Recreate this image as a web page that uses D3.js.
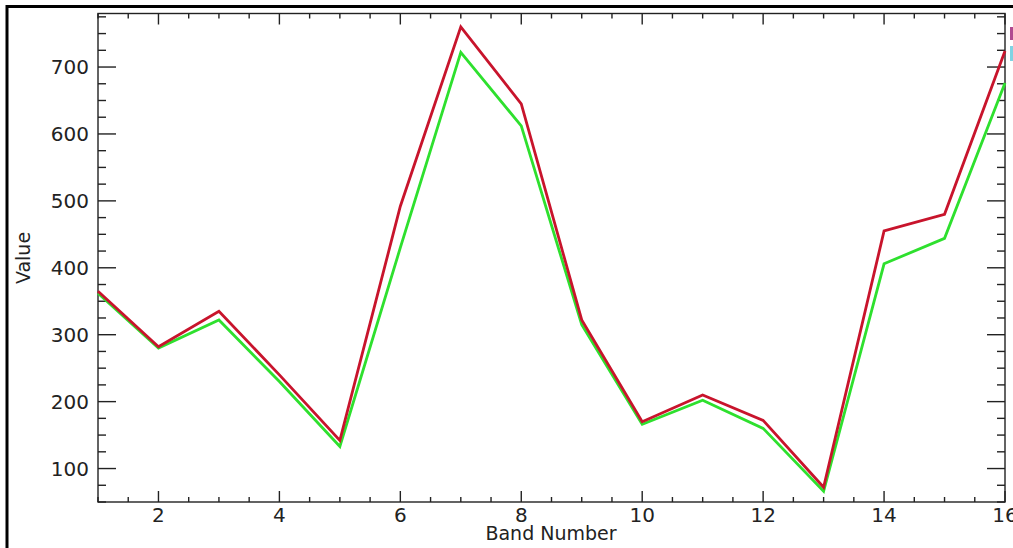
<!DOCTYPE html>
<html>
<head>
<meta charset="utf-8">
<script src="https://cdn.jsdelivr.net/npm/d3@7"></script>
<style>
  html, body { margin: 0; padding: 0; background: #fff; }
  svg { display: block; }
  .tick-label { font-family: "DejaVu Sans", sans-serif; font-size: 20px; fill: #222; }
  .axis-title { font-family: "DejaVu Sans", sans-serif; font-size: 19px; fill: #222; }
</style>
</head>
<body>
<div id="chart"></div>
<script>
// band numbers and the two spectra
var bands = [1, 2, 3, 4, 5, 6, 7, 8, 9, 10, 11, 12, 13, 14, 15, 16];
var redValues = [365, 282, 335, 240, 142, 492, 760, 645, 322, 170, 210, 172, 72, 455, 480, 724];
var greenValues = [362, 280, 322, 230, 133, 430, 722, 612, 315, 166, 202, 160, 66, 406, 444, 676];

var xMajorTicks = [2, 4, 6, 8, 10, 12, 14, 16];
var yMajorTicks = [100, 200, 300, 400, 500, 600, 700];

var width = 1013,
    height = 548;

var plot = { left: 98, right: 1005, top: 13.5, bottom: 502 };

var x = d3.scaleLinear().domain([1, 16]).range([plot.left, plot.right]);
var y = d3.scaleLinear().domain([50, 780]).range([plot.bottom, plot.top]);

var svg = d3.select('#chart').append('svg')
    .attr('width', width)
    .attr('height', height);

// frame around the whole picture (only top and left survive the crop)
svg.append('line')
    .attr('x1', 6).attr('x2', width).attr('y1', 6.5).attr('y2', 6.5)
    .attr('stroke', '#000').attr('stroke-width', 3);
svg.append('line')
    .attr('x1', 7).attr('x2', 7).attr('y1', 5).attr('y2', height)
    .attr('stroke', '#000').attr('stroke-width', 3);

// minor tick positions
var xMinor = d3.range(1, 16.01, 0.5).filter(function(d) { return xMajorTicks.indexOf(d) < 0; });
var yMinor = d3.range(50, 781, 25).filter(function(d) { return yMajorTicks.indexOf(d) < 0; });

var axisColor = '#222';

// box axes
var axes = svg.append('g').attr('stroke', axisColor).attr('stroke-width', 1.4);
axes.append('rect')
    .attr('x', plot.left).attr('y', plot.top)
    .attr('width', plot.right - plot.left).attr('height', plot.bottom - plot.top)
    .attr('fill', 'none');

function xTicks(values, len) {
  values.forEach(function(v) {
    axes.append('line')
        .attr('x1', x(v)).attr('x2', x(v))
        .attr('y1', plot.bottom).attr('y2', plot.bottom - len);
    axes.append('line')
        .attr('x1', x(v)).attr('x2', x(v))
        .attr('y1', plot.top).attr('y2', plot.top + len);
  });
}

function yTicks(values, len) {
  values.forEach(function(v) {
    axes.append('line')
        .attr('x1', plot.left).attr('x2', plot.left + len)
        .attr('y1', y(v)).attr('y2', y(v));
    axes.append('line')
        .attr('x1', plot.right).attr('x2', plot.right - len)
        .attr('y1', y(v)).attr('y2', y(v));
  });
}

xTicks(xMajorTicks, 11);
xTicks(xMinor, 5);
yTicks(yMajorTicks, 18);
yTicks(yMinor, 8);

// tick labels
svg.selectAll('.xlab')
    .data(xMajorTicks)
  .enter().append('text')
    .attr('class', 'tick-label')
    .attr('x', function(d) { return x(d); })
    .attr('y', 522)
    .attr('text-anchor', 'middle')
    .text(function(d) { return d; });

svg.selectAll('.ylab')
    .data(yMajorTicks)
  .enter().append('text')
    .attr('class', 'tick-label')
    .attr('x', 89)
    .attr('y', function(d) { return y(d) + 7; })
    .attr('text-anchor', 'end')
    .text(function(d) { return d; });

svg.append('text')
    .attr('class', 'axis-title')
    .attr('x', 551)
    .attr('y', 540)
    .attr('text-anchor', 'middle')
    .text('Band Number');

svg.append('text')
    .attr('class', 'axis-title')
    .attr('transform', 'translate(30,258) rotate(-90)')
    .attr('text-anchor', 'middle')
    .text('Value');

// spectra
var line = d3.line()
    .x(function(d) { return x(d[0]); })
    .y(function(d) { return y(d[1]); });

svg.append('path')
    .datum(d3.zip(bands, greenValues))
    .attr('d', line)
    .attr('fill', 'none')
    .attr('stroke', '#2ee02e')
    .attr('stroke-width', 2.8);

svg.append('path')
    .datum(d3.zip(bands, redValues))
    .attr('d', line)
    .attr('fill', 'none')
    .attr('stroke', '#c8142c')
    .attr('stroke-width', 2.8);

// legend swatches, cut off by the right edge
svg.append('rect')
    .attr('x', 1010).attr('y', 27).attr('width', 4).attr('height', 13)
    .attr('fill', '#b04a90');
svg.append('rect')
    .attr('x', 1010).attr('y', 46).attr('width', 4).attr('height', 15)
    .attr('fill', '#7fd3e3');
</script>
</body>
</html>
